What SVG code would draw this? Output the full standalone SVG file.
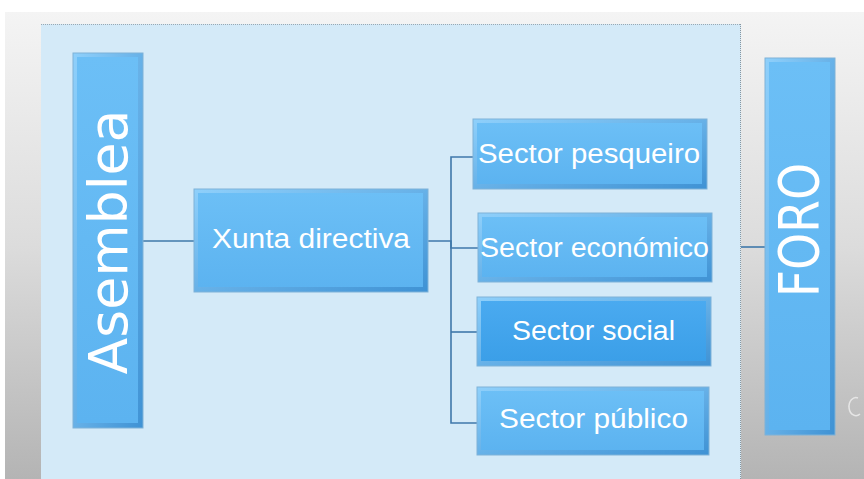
<svg xmlns="http://www.w3.org/2000/svg" width="864" height="479" viewBox="0 0 864 479">
<defs>
<linearGradient id="bg" x1="0" y1="0" x2="0" y2="1">
<stop offset="0" stop-color="#f4f4f4"/>
<stop offset="0.5" stop-color="#dcdcdc"/>
<stop offset="1" stop-color="#b4b4b4"/>
</linearGradient>
<linearGradient id="edge" x1="0" y1="0" x2="1" y2="1">
<stop offset="0" stop-color="#8fd0fb"/>
<stop offset="1" stop-color="#3f92d4"/>
</linearGradient>
<linearGradient id="face" x1="0" y1="0" x2="0" y2="1">
<stop offset="0" stop-color="#6cbff6"/>
<stop offset="1" stop-color="#5cb3f0"/>
</linearGradient>
<linearGradient id="faceDark" x1="0" y1="0" x2="0" y2="1">
<stop offset="0" stop-color="#4aaaf0"/>
<stop offset="1" stop-color="#3b9fe8"/>
</linearGradient>
</defs>
<style>
.edge{fill:url(#edge);stroke:#7fb2d8;stroke-width:1}
.face{fill:url(#face)}
.faceD{fill:url(#faceDark)}
.lbl{font-family:"Liberation Sans","DejaVu Sans",sans-serif;fill:#ffffff;font-size:27px}
.big{font-family:"DejaVu Sans","Liberation Sans",sans-serif;fill:#ffffff}
.conn{fill:none;stroke:#3f78aa;stroke-width:1.6}
</style>
<rect x="0" y="0" width="864" height="479" fill="#ffffff"/>
<rect x="5" y="12" width="859" height="467" fill="url(#bg)"/>
<rect x="41" y="24" width="700" height="455" fill="#d4eaf8"/>
<line x1="41" y1="24.5" x2="741" y2="24.5" stroke="#9aa8b2" stroke-width="1" stroke-dasharray="1,1"/>
<line x1="740.5" y1="24" x2="740.5" y2="479" stroke="#8a969e" stroke-width="1" stroke-dasharray="1,1"/>
<path d="M858 398 a7 9 0 1 0 2 16" fill="none" stroke="#e6e6e6" stroke-width="1.5"/>

<g id="connectors">
<line class="conn" x1="143" y1="241" x2="194" y2="241"/>
<polyline class="conn" points="428,241 451,241 451,248 478,248"/>
<polyline class="conn" points="473,157 451,157 451,423 477,423"/>
<line class="conn" x1="451" y1="332" x2="477" y2="332"/>
<line class="conn" x1="741" y1="247" x2="765" y2="247"/>
</g>

<g id="asemblea">
<rect class="edge" x="73" y="53" width="70" height="375"/>
<rect class="face" x="77" y="57" width="61" height="366"/>
<text class="big" font-size="54" text-anchor="middle" textLength="265" lengthAdjust="spacingAndGlyphs" transform="translate(127,242) rotate(-90)">Asemblea</text>
</g>

<g id="xunta">
<rect class="edge" x="194" y="189" width="234" height="103"/>
<rect class="face" x="198" y="193" width="225" height="94"/>
<text class="lbl" x="212" y="248" textLength="198" lengthAdjust="spacingAndGlyphs">Xunta directiva</text>
</g>

<g id="pesqueiro">
<rect class="edge" x="473" y="119" width="234" height="70"/>
<rect class="face" x="477" y="123" width="225" height="61"/>
<text class="lbl" x="478" y="163" textLength="222" lengthAdjust="spacingAndGlyphs">Sector pesqueiro</text>
</g>

<g id="economico">
<rect class="edge" x="478" y="213" width="234" height="69"/>
<rect class="face" x="482" y="217" width="225" height="60"/>
<text class="lbl" x="480" y="257" textLength="229" lengthAdjust="spacingAndGlyphs">Sector económico</text>
</g>

<g id="social">
<rect class="edge" x="477" y="297" width="234" height="69"/>
<rect class="faceD" x="481" y="301" width="225" height="60"/>
<text class="lbl" x="512" y="340" textLength="163" lengthAdjust="spacingAndGlyphs">Sector social</text>
</g>

<g id="publico">
<rect class="edge" x="477" y="387" width="232" height="68"/>
<rect class="face" x="481" y="391" width="223" height="59"/>
<text class="lbl" x="499" y="428" textLength="189" lengthAdjust="spacingAndGlyphs">Sector público</text>
</g>

<g id="foro">
<rect class="edge" x="765" y="58" width="70" height="377"/>
<rect class="face" x="769" y="62" width="61" height="368"/>
<text class="big" font-size="56" text-anchor="middle" textLength="134" lengthAdjust="spacingAndGlyphs" transform="translate(818,230) rotate(-90)">FORO</text>
</g>
</svg>
